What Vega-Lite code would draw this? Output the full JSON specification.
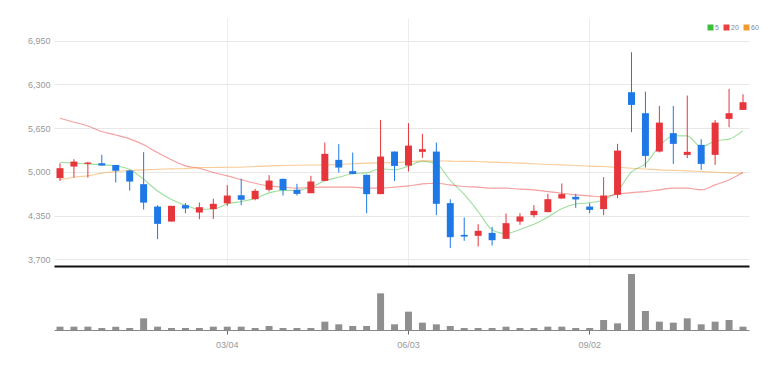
{
  "$schema": "https://vega.github.io/schema/vega-lite/v6.json",
  "autosize": {"type": "pad"},
  "padding": {"left": 27, "top": 18, "right": 0, "bottom": 0},
  "background": "white",
  "spacing": 2,
  "config": {
    "view": {"stroke": null},
    "font": "Liberation Sans",
    "axis": {"labelFont": "Liberation Sans"},
    "legend": {"labelFont": "Liberation Sans"}
  },
  "datasets": {
    "d": [
      {"date": "2023-12-11", "open": 4907, "high": 5130, "low": 4866, "close": 5055, "volume": 10000, "MA5": 5144, "MA20": 5799, "MA60": 4881},
      {"date": "2023-12-18", "open": 5079, "high": 5189, "low": 4915, "close": 5153, "volume": 10000, "MA5": 5130, "MA20": 5739, "MA60": 4921},
      {"date": "2023-12-25", "open": 5119, "high": 5149, "low": 4915, "close": 5139, "volume": 10000, "MA5": 5119, "MA20": 5684, "MA60": 4941},
      {"date": "2024-01-01", "open": 5130, "high": 5254, "low": 5094, "close": 5094, "volume": 6000, "MA5": 5104, "MA20": 5600, "MA60": 4981},
      {"date": "2024-01-08", "open": 5104, "high": 5104, "low": 4841, "close": 5015, "volume": 10000, "MA5": 5088, "MA20": 5550, "MA60": 5005},
      {"date": "2024-01-15", "open": 5020, "high": 5030, "low": 4722, "close": 4856, "volume": 6000, "MA5": 5035, "MA20": 5491, "MA60": 5020},
      {"date": "2024-01-22", "open": 4817, "high": 5293, "low": 4440, "close": 4543, "volume": 35000, "MA5": 4890, "MA20": 5402, "MA60": 5030},
      {"date": "2024-01-29", "open": 4484, "high": 4505, "low": 3999, "close": 4227, "volume": 10000, "MA5": 4715, "MA20": 5287, "MA60": 5040},
      {"date": "2024-02-05", "open": 4261, "high": 4495, "low": 4261, "close": 4495, "volume": 6000, "MA5": 4590, "MA20": 5179, "MA60": 5045},
      {"date": "2024-02-12", "open": 4505, "high": 4535, "low": 4386, "close": 4455, "volume": 6000, "MA5": 4505, "MA20": 5089, "MA60": 5050},
      {"date": "2024-02-19", "open": 4395, "high": 4544, "low": 4297, "close": 4475, "volume": 6000, "MA5": 4442, "MA20": 5055, "MA60": 5064},
      {"date": "2024-02-26", "open": 4446, "high": 4600, "low": 4300, "close": 4525, "volume": 10000, "MA5": 4447, "MA20": 4990, "MA60": 5066},
      {"date": "2024-03-04", "open": 4532, "high": 4802, "low": 4495, "close": 4648, "volume": 10000, "MA5": 4522, "MA20": 4941, "MA60": 5068},
      {"date": "2024-03-11", "open": 4652, "high": 4896, "low": 4505, "close": 4585, "volume": 10000, "MA5": 4560, "MA20": 4885, "MA60": 5070},
      {"date": "2024-03-18", "open": 4594, "high": 4748, "low": 4577, "close": 4718, "volume": 6000, "MA5": 4605, "MA20": 4832, "MA60": 5080},
      {"date": "2024-03-25", "open": 4733, "high": 4951, "low": 4708, "close": 4871, "volume": 12000, "MA5": 4688, "MA20": 4792, "MA60": 5089},
      {"date": "2024-04-01", "open": 4896, "high": 4900, "low": 4648, "close": 4728, "volume": 6000, "MA5": 4725, "MA20": 4773, "MA60": 5094},
      {"date": "2024-04-08", "open": 4733, "high": 4822, "low": 4648, "close": 4673, "volume": 6000, "MA5": 4724, "MA20": 4758, "MA60": 5099},
      {"date": "2024-04-15", "open": 4683, "high": 4941, "low": 4683, "close": 4856, "volume": 6000, "MA5": 4770, "MA20": 4770, "MA60": 5102},
      {"date": "2024-04-22", "open": 4866, "high": 5436, "low": 4866, "close": 5268, "volume": 25000, "MA5": 4868, "MA20": 4773, "MA60": 5104},
      {"date": "2024-04-29", "open": 5179, "high": 5412, "low": 4990, "close": 5064, "volume": 17000, "MA5": 4920, "MA20": 4773, "MA60": 5110},
      {"date": "2024-05-06", "open": 5011, "high": 5287, "low": 4965, "close": 4970, "volume": 12000, "MA5": 4973, "MA20": 4773, "MA60": 5120},
      {"date": "2024-05-13", "open": 4956, "high": 4960, "low": 4385, "close": 4669, "volume": 12000, "MA5": 4985, "MA20": 4758, "MA60": 5130},
      {"date": "2024-05-20", "open": 4669, "high": 5773, "low": 4669, "close": 5228, "volume": 110000, "MA5": 5047, "MA20": 4758, "MA60": 5135},
      {"date": "2024-05-27", "open": 5302, "high": 5305, "low": 4866, "close": 5089, "volume": 17000, "MA5": 5030, "MA20": 4773, "MA60": 5139},
      {"date": "2024-06-03", "open": 5094, "high": 5724, "low": 5005, "close": 5391, "volume": 55000, "MA5": 5086, "MA20": 4792, "MA60": 5150},
      {"date": "2024-06-10", "open": 5298, "high": 5565, "low": 5208, "close": 5338, "volume": 22000, "MA5": 5160, "MA20": 4822, "MA60": 5164},
      {"date": "2024-06-17", "open": 5302, "high": 5436, "low": 4356, "close": 4525, "volume": 17000, "MA5": 5120, "MA20": 4832, "MA60": 5164},
      {"date": "2024-06-24", "open": 4535, "high": 4593, "low": 3866, "close": 4029, "volume": 12000, "MA5": 4874, "MA20": 4807, "MA60": 5160},
      {"date": "2024-07-01", "open": 4063, "high": 4322, "low": 3974, "close": 4038, "volume": 6000, "MA5": 4664, "MA20": 4782, "MA60": 5157},
      {"date": "2024-07-08", "open": 4049, "high": 4223, "low": 3890, "close": 4123, "volume": 6000, "MA5": 4411, "MA20": 4773, "MA60": 5154},
      {"date": "2024-07-15", "open": 4093, "high": 4183, "low": 3905, "close": 3984, "volume": 6000, "MA5": 4140, "MA20": 4758, "MA60": 5145},
      {"date": "2024-07-22", "open": 4004, "high": 4381, "low": 4000, "close": 4237, "volume": 10000, "MA5": 4082, "MA20": 4758, "MA60": 5138},
      {"date": "2024-07-29", "open": 4261, "high": 4386, "low": 4212, "close": 4336, "volume": 6000, "MA5": 4144, "MA20": 4743, "MA60": 5130},
      {"date": "2024-08-05", "open": 4356, "high": 4505, "low": 4322, "close": 4421, "volume": 6000, "MA5": 4220, "MA20": 4733, "MA60": 5120},
      {"date": "2024-08-12", "open": 4401, "high": 4674, "low": 4401, "close": 4594, "volume": 10000, "MA5": 4330, "MA20": 4707, "MA60": 5110},
      {"date": "2024-08-19", "open": 4604, "high": 4827, "low": 4600, "close": 4669, "volume": 10000, "MA5": 4453, "MA20": 4683, "MA60": 5104},
      {"date": "2024-08-26", "open": 4629, "high": 4674, "low": 4465, "close": 4590, "volume": 6000, "MA5": 4522, "MA20": 4658, "MA60": 5095},
      {"date": "2024-09-02", "open": 4484, "high": 4535, "low": 4386, "close": 4435, "volume": 6000, "MA5": 4542, "MA20": 4643, "MA60": 5085},
      {"date": "2024-09-09", "open": 4446, "high": 4921, "low": 4356, "close": 4648, "volume": 30000, "MA5": 4586, "MA20": 4630, "MA60": 5079},
      {"date": "2024-09-16", "open": 4660, "high": 5417, "low": 4612, "close": 5317, "volume": 20000, "MA5": 4715, "MA20": 4669, "MA60": 5067},
      {"date": "2024-09-23", "open": 6185, "high": 6780, "low": 5591, "close": 5996, "volume": 168000, "MA5": 4999, "MA20": 4692, "MA60": 5055},
      {"date": "2024-09-30", "open": 5873, "high": 6194, "low": 5064, "close": 5238, "volume": 57000, "MA5": 5120, "MA20": 4707, "MA60": 5043},
      {"date": "2024-10-07", "open": 5302, "high": 5982, "low": 5290, "close": 5733, "volume": 25000, "MA5": 5382, "MA20": 4733, "MA60": 5030},
      {"date": "2024-10-14", "open": 5576, "high": 5982, "low": 5119, "close": 5417, "volume": 22000, "MA5": 5538, "MA20": 4758, "MA60": 5022},
      {"date": "2024-10-21", "open": 5253, "high": 6135, "low": 5204, "close": 5298, "volume": 35000, "MA5": 5536, "MA20": 4758, "MA60": 5015},
      {"date": "2024-10-28", "open": 5402, "high": 5486, "low": 5030, "close": 5119, "volume": 17000, "MA5": 5370, "MA20": 4733, "MA60": 5005},
      {"date": "2024-11-04", "open": 5253, "high": 5773, "low": 5104, "close": 5733, "volume": 25000, "MA5": 5460, "MA20": 4807, "MA60": 4995},
      {"date": "2024-11-11", "open": 5788, "high": 6234, "low": 5665, "close": 5873, "volume": 30000, "MA5": 5487, "MA20": 4881, "MA60": 4985},
      {"date": "2024-11-18", "open": 5922, "high": 6155, "low": 5922, "close": 6036, "volume": 10000, "MA5": 5613, "MA20": 4990, "MA60": 4981}
    ]
  },
  "vconcat": [
    {
      "width": 695,
      "height": 248,
      "data": {"name": "d"},
      "encoding": {
        "x": {
          "field": "date",
          "type": "ordinal",
          "scale": {"paddingInner": 0.5, "paddingOuter": 0.18},
          "axis": {
            "values": ["2024-03-04", "2024-06-03", "2024-09-02"],
            "labels": false,
            "ticks": false,
            "title": null,
            "grid": true,
            "gridColor": "#ededed",
            "domainColor": "#111111",
            "domainWidth": 2
          }
        }
      },
      "layer": [
        {
          "transform": [{"fold": ["MA5", "MA20", "MA60"], "as": ["ma", "val"]}],
          "mark": {"type": "line", "strokeWidth": 1.1, "opacity": 0.5, "interpolate": "monotone"},
          "encoding": {
            "y": {
              "field": "val",
              "type": "quantitative",
              "scale": {"domain": [3600, 7289], "nice": false, "zero": false},
              "axis": {
                "values": [3700, 4350, 5000, 5650, 6300, 6950],
                "labelExpr": "format(datum.value, ',')",
                "title": null,
                "domain": false,
                "ticks": false,
                "labelPadding": 4,
                "labelColor": "#999999",
                "labelFontSize": 9,
                "gridColor": "#e8e8e8"
              }
            },
            "color": {
              "field": "ma",
              "type": "nominal",
              "scale": {"domain": ["MA5", "MA20", "MA60"], "range": ["#3cbf3c", "#ec4040", "#f39a30"]},
              "legend": {
                "orient": "none",
                "legendX": 653,
                "legendY": 6,
                "direction": "horizontal",
                "title": null,
                "symbolType": "square",
                "symbolSize": 9,
                "symbolStrokeWidth": 3,
                "symbolOpacity": 1,
                "labelFontSize": 7,
                "labelColor": "#888888",
                "labelOffset": 1,
                "columnPadding": 0,
                "labelExpr": "replace(datum.label, 'MA', '')"
              }
            }
          }
        },
        {
          "mark": {"type": "rule", "strokeWidth": 1},
          "encoding": {
            "y": {"field": "low", "type": "quantitative"},
            "y2": {"field": "high"},
            "color": {"condition": {"test": "datum.close >= datum.open", "value": "#e6353b"}, "value": "#1e78e6"}
          }
        },
        {
          "mark": {"type": "bar"},
          "encoding": {
            "y": {"field": "open", "type": "quantitative"},
            "y2": {"field": "close"},
            "color": {"condition": {"test": "datum.close >= datum.open", "value": "#e6353b"}, "value": "#1e78e6"}
          }
        }
      ]
    },
    {
      "width": 695,
      "height": 62,
      "data": {"name": "d"},
      "mark": {"type": "bar", "color": "#8f8f8f"},
      "encoding": {
        "x": {
          "field": "date",
          "type": "ordinal",
          "scale": {"paddingInner": 0.5, "paddingOuter": 0.18},
          "axis": {
            "values": ["2024-03-04", "2024-06-03", "2024-09-02"],
            "labelExpr": "substring(datum.value, 5, 7) + '/' + substring(datum.value, 8, 10)",
            "labelAngle": 0,
            "title": null,
            "grid": false,
            "domainColor": "#888888",
            "tickColor": "#666666",
            "tickSize": 4,
            "labelColor": "#999999",
            "labelFontSize": 9,
            "labelPadding": 6
          }
        },
        "y": {
          "field": "volume",
          "type": "quantitative",
          "scale": {"domain": [0, 186000]},
          "axis": null
        }
      }
    }
  ]
}
